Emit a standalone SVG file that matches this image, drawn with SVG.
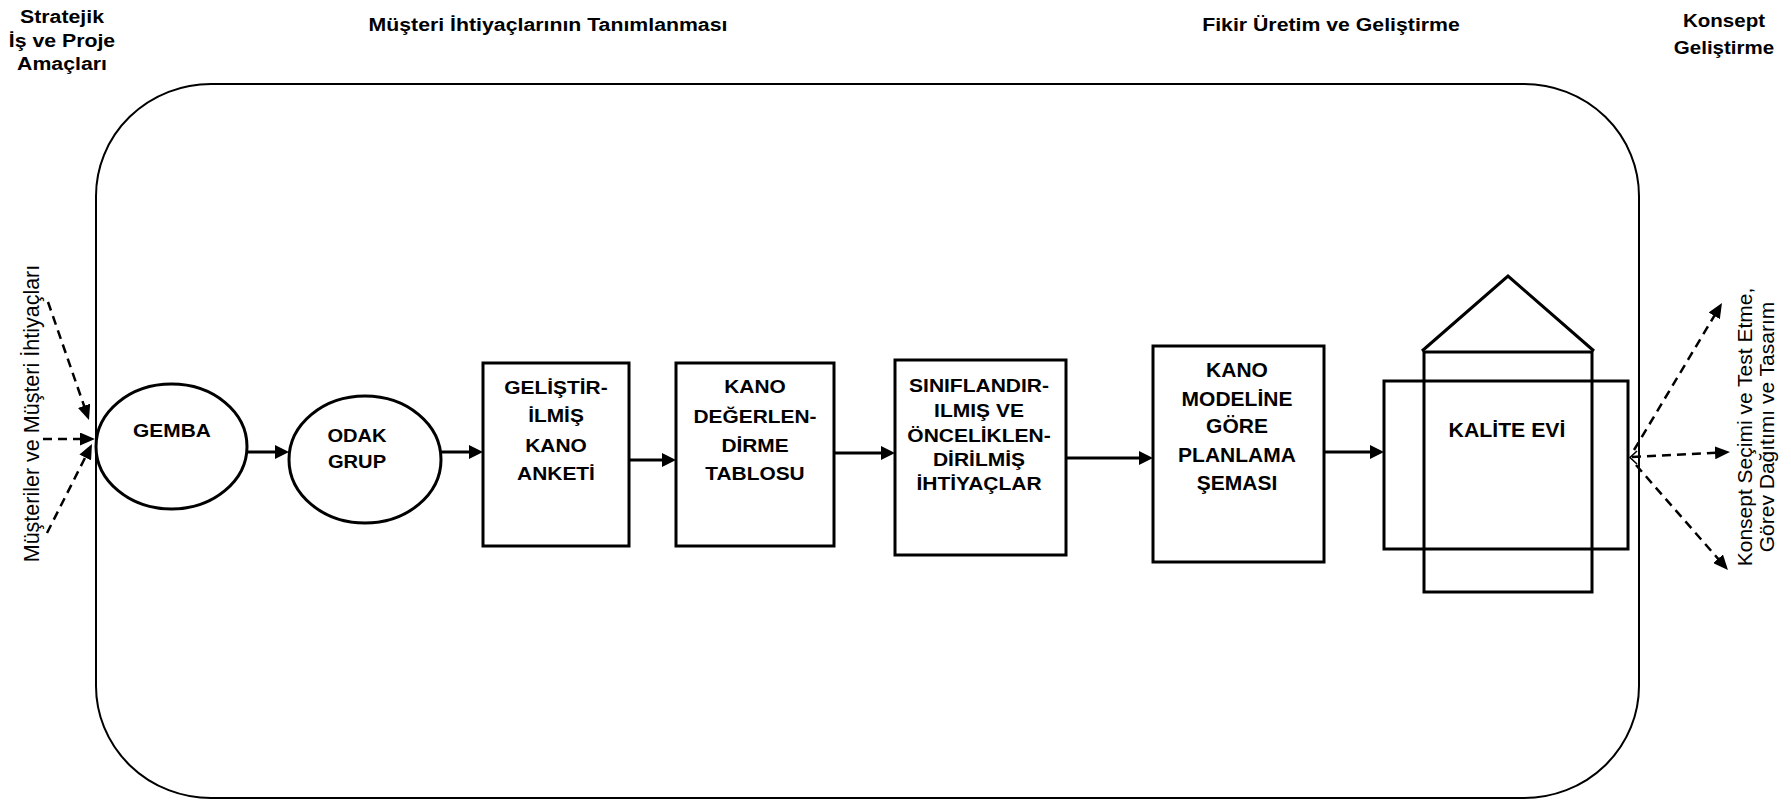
<svg xmlns="http://www.w3.org/2000/svg" width="1791" height="800" viewBox="0 0 1791 800">
  <style>
    text { font-family: "Liberation Sans", Arial, sans-serif; fill: #000; }
    .b { font-weight: bold; text-anchor: middle; }
    .h { font-size: 19px; }
    .side { font-size: 21px; text-anchor: middle; }
    .frame { fill: none; stroke: #000; stroke-width: 2; }
    .node { fill: #fff; stroke: #000; stroke-width: 3; }
    .house { fill: none; stroke: #000; stroke-width: 3; }
    .conn { stroke: #000; stroke-width: 3; fill: none; }
    .dash { stroke: #000; stroke-width: 2.5; fill: none; stroke-dasharray: 9 6; }
  </style>
  <defs>
    <marker id="ah" markerUnits="userSpaceOnUse" markerWidth="14" markerHeight="14" refX="8" refY="7" orient="auto">
      <path d="M0,0 L14,7 L0,14 z" fill="#000"/>
    </marker>
    <marker id="ahd" markerUnits="userSpaceOnUse" markerWidth="15" markerHeight="13" refX="9" refY="6.5" orient="auto">
      <path d="M0,0 L15,6.5 L0,13 z" fill="#000"/>
    </marker>
  </defs>

  <rect width="1791" height="800" fill="#fff"/>

  <!-- column headings -->
  <g id="headings" class="b h">
    <g transform="translate(62 0) scale(1.12 1)">
      <text x="0" y="23">Stratejik</text>
      <text x="0" y="47">İş ve Proje</text>
      <text x="0" y="70">Amaçları</text>
    </g>
    <g transform="translate(548 0) scale(1.12 1)">
      <text x="0" y="31">Müşteri İhtiyaçlarının Tanımlanması</text>
    </g>
    <g transform="translate(1331 0) scale(1.12 1)">
      <text x="0" y="31">Fikir Üretim ve Geliştirme</text>
    </g>
    <g transform="translate(1724 0) scale(1.08 1)">
      <text x="0" y="27">Konsept</text>
      <text x="0" y="54">Geliştirme</text>
    </g>
  </g>

  <!-- process frame -->
  <rect id="frame" class="frame" x="96" y="84" width="1543" height="714" rx="115" ry="112"/>

  <!-- connectors -->
  <g id="connectors">
    <line class="conn" x1="247" y1="452" x2="283" y2="452" marker-end="url(#ah)"/>
    <line class="conn" x1="441" y1="452" x2="477" y2="452" marker-end="url(#ah)"/>
    <line class="conn" x1="629" y1="460" x2="670" y2="460" marker-end="url(#ah)"/>
    <line class="conn" x1="834" y1="453" x2="889" y2="453" marker-end="url(#ah)"/>
    <line class="conn" x1="1066" y1="458" x2="1147" y2="458" marker-end="url(#ah)"/>
    <line class="conn" x1="1324" y1="452" x2="1378" y2="452" marker-end="url(#ah)"/>

    <!-- inputs to GEMBA -->
    <line class="dash" x1="48" y1="302" x2="87" y2="414.3" marker-end="url(#ahd)"/>
    <line class="dash" x1="43" y1="439" x2="89" y2="439" marker-end="url(#ahd)"/>
    <line class="dash" x1="47" y1="533" x2="89.3" y2="449.4" marker-end="url(#ahd)"/>

    <!-- outputs of the house of quality -->
    <line class="dash" x1="1634" y1="450" x2="1718.9" y2="308.1" marker-end="url(#ahd)"/>
    <line class="dash" x1="1632" y1="457" x2="1724" y2="452.3" marker-end="url(#ahd)"/>
    <line class="dash" x1="1636" y1="465" x2="1724" y2="565.5" marker-end="url(#ahd)"/>
    <polyline points="1637,451 1630,457.5 1637,464" fill="none" stroke="#000" stroke-width="1.6"/>
  </g>

  <!-- side labels -->
  <g id="input-label">
    <text class="side" style="font-size:21.5px" transform="translate(39 413.5) rotate(-90)" x="0" y="0">Müşteriler ve Müşteri İhtiyaçları</text>
  </g>
  <g id="output-label" transform="translate(1752 427) rotate(-90)">
    <text class="side" x="0" y="0">Konsept Seçimi ve Test Etme,</text>
    <text class="side" x="0" y="22">Görev Dağıtımı ve Tasarım</text>
  </g>

  <!-- nodes -->
  <g id="gemba">
    <ellipse class="node" cx="171.5" cy="446.5" rx="75.5" ry="62.5"/>
    <g class="b" transform="translate(172 0) scale(1.1 1)" style="font-size:19px">
      <text x="0" y="437">GEMBA</text>
    </g>
  </g>

  <g id="odak-grup">
    <ellipse class="node" cx="365" cy="459.5" rx="76" ry="63.5"/>
    <g class="b" transform="translate(357 0) scale(1.06 1)" style="font-size:19px">
      <text x="0" y="442">ODAK</text>
      <text x="0" y="468">GRUP</text>
    </g>
  </g>

  <g id="kano-anketi">
    <rect class="node" x="483" y="363" width="146" height="183"/>
    <g class="b" transform="translate(556 0) scale(1.1 1)" style="font-size:19px">
      <text x="0" y="394">GELİŞTİR-</text>
      <text x="0" y="422">İLMİŞ</text>
      <text x="0" y="452">KANO</text>
      <text x="0" y="480">ANKETİ</text>
    </g>
  </g>

  <g id="kano-tablosu">
    <rect class="node" x="676" y="363" width="158" height="183"/>
    <g class="b" transform="translate(755 0) scale(1.16 1)" style="font-size:18px">
      <text x="0" y="393">KANO</text>
      <text x="0" y="423">DEĞERLEN-</text>
      <text x="0" y="452">DİRME</text>
      <text x="0" y="480">TABLOSU</text>
    </g>
  </g>

  <g id="ihtiyaclar">
    <rect class="node" x="895" y="360" width="171" height="195"/>
    <g class="b" transform="translate(979 0) scale(1.2 1)" style="font-size:17.5px">
      <text x="0" y="392">SINIFLANDIR-</text>
      <text x="0" y="417">ILMIŞ VE</text>
      <text x="0" y="442">ÖNCELİKLEN-</text>
      <text x="0" y="466">DİRİLMİŞ</text>
      <text x="0" y="490">İHTİYAÇLAR</text>
    </g>
  </g>

  <g id="planlama">
    <rect class="node" x="1153" y="346" width="171" height="216"/>
    <g class="b" transform="translate(1237 0) scale(1.05 1)" style="font-size:20px">
      <text x="0" y="377">KANO</text>
      <text x="0" y="406">MODELİNE</text>
      <text x="0" y="433">GÖRE</text>
      <text x="0" y="462">PLANLAMA</text>
      <text x="0" y="490">ŞEMASI</text>
    </g>
  </g>

  <g id="kalite-evi">
    <polyline class="house" points="1422,351 1508,276 1594,351"/>
    <rect class="house" x="1424" y="352" width="168" height="240"/>
    <rect class="house" x="1384" y="381" width="244" height="168"/>
    <g class="b" transform="translate(1507 0) scale(1.09 1)" style="font-size:19.5px">
      <text x="0" y="437">KALİTE EVİ</text>
    </g>
  </g>
</svg>
